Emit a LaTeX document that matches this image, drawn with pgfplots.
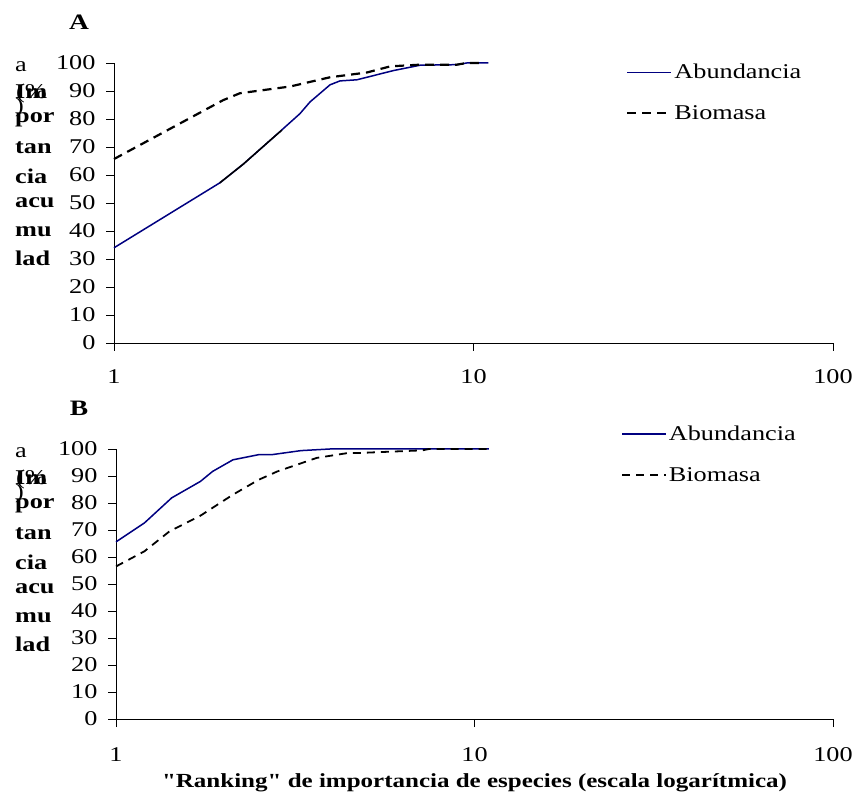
\documentclass[border=0pt]{standalone}
\usepackage{fontspec}
\setmainfont{Liberation Serif}[FakeStretch=1.25, Ligatures=TeXOff]
\usepackage{pgfplots}
\pgfplotsset{compat=1.18}
\definecolor{navyl}{RGB}{0,0,128}
\newcommand{\fs}{\fontsize{21}{25}\selectfont}
\tikzset{
  abund/.style={navyl, line width=1.5pt},
  biom/.style={black, line width=2.2pt, dash pattern=on 9pt off 6pt},
}
\begin{document}
\begin{tikzpicture}
\useasboundingbox (0,0) rectangle (853pt,797pt);
% Panel A
\begin{axis}[at={(114pt,454pt)}, anchor=south west, width=719pt, height=280pt,
  scale only axis, xmode=log, xmin=1, xmax=100, ymin=0, ymax=100,
  axis x line*=bottom, axis y line*=left,
  axis line style={-, black, line width=0.8pt},
  xtick={1,10,100}, xticklabels={1,10,100}, xminorticks=false,
  ytick={0,10,...,100},
  tick align=outside, major tick length=8pt,
  tick style={black, line width=0.8pt},
  tick label style={font=\fs},
  xticklabel style={yshift=-15pt},
  yticklabel style={xshift=-7pt},
  legend style={draw=none, fill=none, font=\fs, row sep=21pt, anchor=north west, at={(0.708,1.01)}},
  legend cell align=left,
  legend image code/.code={\draw[#1] (0pt,0pt) -- (44pt,0pt);},
  clip=false,
  /pgf/number format/assume math mode=true]
\addplot[abund] coordinates {(1,34) (1.97,57.2) (2.29,63.9) (2.77,73.3) (3.29,81.9) (3.51,86.1) (3.99,92.2) (4.25,93.6) (4.74,94) (5.99,97.3) (7.1,99.2) (8.99,99.4) (9.57,100) (11,100)};
\addlegendentry{Abundancia}
\addplot[biom] coordinates {(1,65.7) (2.01,86.7) (2.24,89.2) (3.09,91.6) (3.99,94.9) (5.05,96.6) (5.87,98.8) (6.25,99) (7.1,99.4) (8.99,99.4) (9.57,100) (10.4,100)};
\addlegendentry{Biomasa}
\addplot[black, line width=1.5pt, forget plot] coordinates {(1.97,57.2) (2.29,63.9) (2.77,73.3) (2.93,76)};
\end{axis}
% Panel B
\begin{axis}[at={(116pt,78pt)}, anchor=south west, width=717pt, height=270pt,
  scale only axis, xmode=log, xmin=1, xmax=100, ymin=0, ymax=100,
  axis x line*=bottom, axis y line*=left,
  axis line style={-, black, line width=0.8pt},
  xtick={1,10,100}, xticklabels={1,10,100}, xminorticks=false,
  ytick={0,10,...,100},
  tick align=outside, major tick length=8pt,
  tick style={black, line width=0.8pt},
  tick label style={font=\fs},
  xticklabel style={yshift=-17pt},
  yticklabel style={xshift=-7pt},
  legend style={draw=none, fill=none, font=\fs, row sep=21pt, anchor=north west, at={(0.70,1.10)}},
  legend cell align=left,
  legend image code/.code={\draw[#1] (0pt,0pt) -- (44pt,0pt);},
  clip=false,
  xlabel={\textbf{"Ranking" de importancia de especies (escala logarítmica)}},
  xlabel style={font=\fontsize{20}{24}\selectfont, yshift=-5pt},
  /pgf/number format/assume math mode=true]
\addplot[abund] coordinates {(1,65.6) (1.2,72.6) (1.43,81.9) (1.72,88) (1.86,91.7) (2.12,96) (2.5,97.9) (2.72,97.9) (3.28,99.4) (3.95,100) (10.96,100)};
\addlegendentry{Abundancia}
\addplot[biom, line width=1.8pt, dash pattern=on 8pt off 6pt] coordinates {(1,56.5) (1.2,62.1) (1.41,69.5) (1.72,75.3) (2.12,83.1) (2.5,88.6) (2.82,91.7) (3.63,96.7) (4.43,98.5) (4.71,98.5) (7.15,99.5) (7.47,100) (11,100)};
\addlegendentry{Biomasa}
\end{axis}
% panel letters
\node[font=\fontsize{22}{26}\selectfont\bfseries] at (79pt,775pt) {A};
\node[font=\fontsize{22}{26}\selectfont\bfseries] at (79pt,389pt) {B};
% broken y labels
\foreach \yy/\lbl in {92/Im,120/por,148/tan,176/cia,203/acu,232/mu,258/lad}{
  \node[anchor=west, inner sep=0pt, font=\fs\bfseries] at (15pt,{(797-\yy)*1pt}) {\lbl};
  \node[anchor=west, inner sep=0pt, font=\fs\bfseries] at (15pt,{(797-\yy-386)*1pt}) {\lbl};
}
\foreach \off in {0,386}{
  \node[anchor=west, inner sep=0pt, font=\fs] at (15pt,{(797-67-\off)*1pt}) {a};
  \node[anchor=west, inner sep=0pt, font=\fs] at (16pt,{(797-93-\off)*1pt}) {(\%};
  \node[anchor=west, inner sep=0pt, font=\fs] at (15pt,{(797-107-\off)*1pt}) {)};
}
\end{tikzpicture}
\end{document}
